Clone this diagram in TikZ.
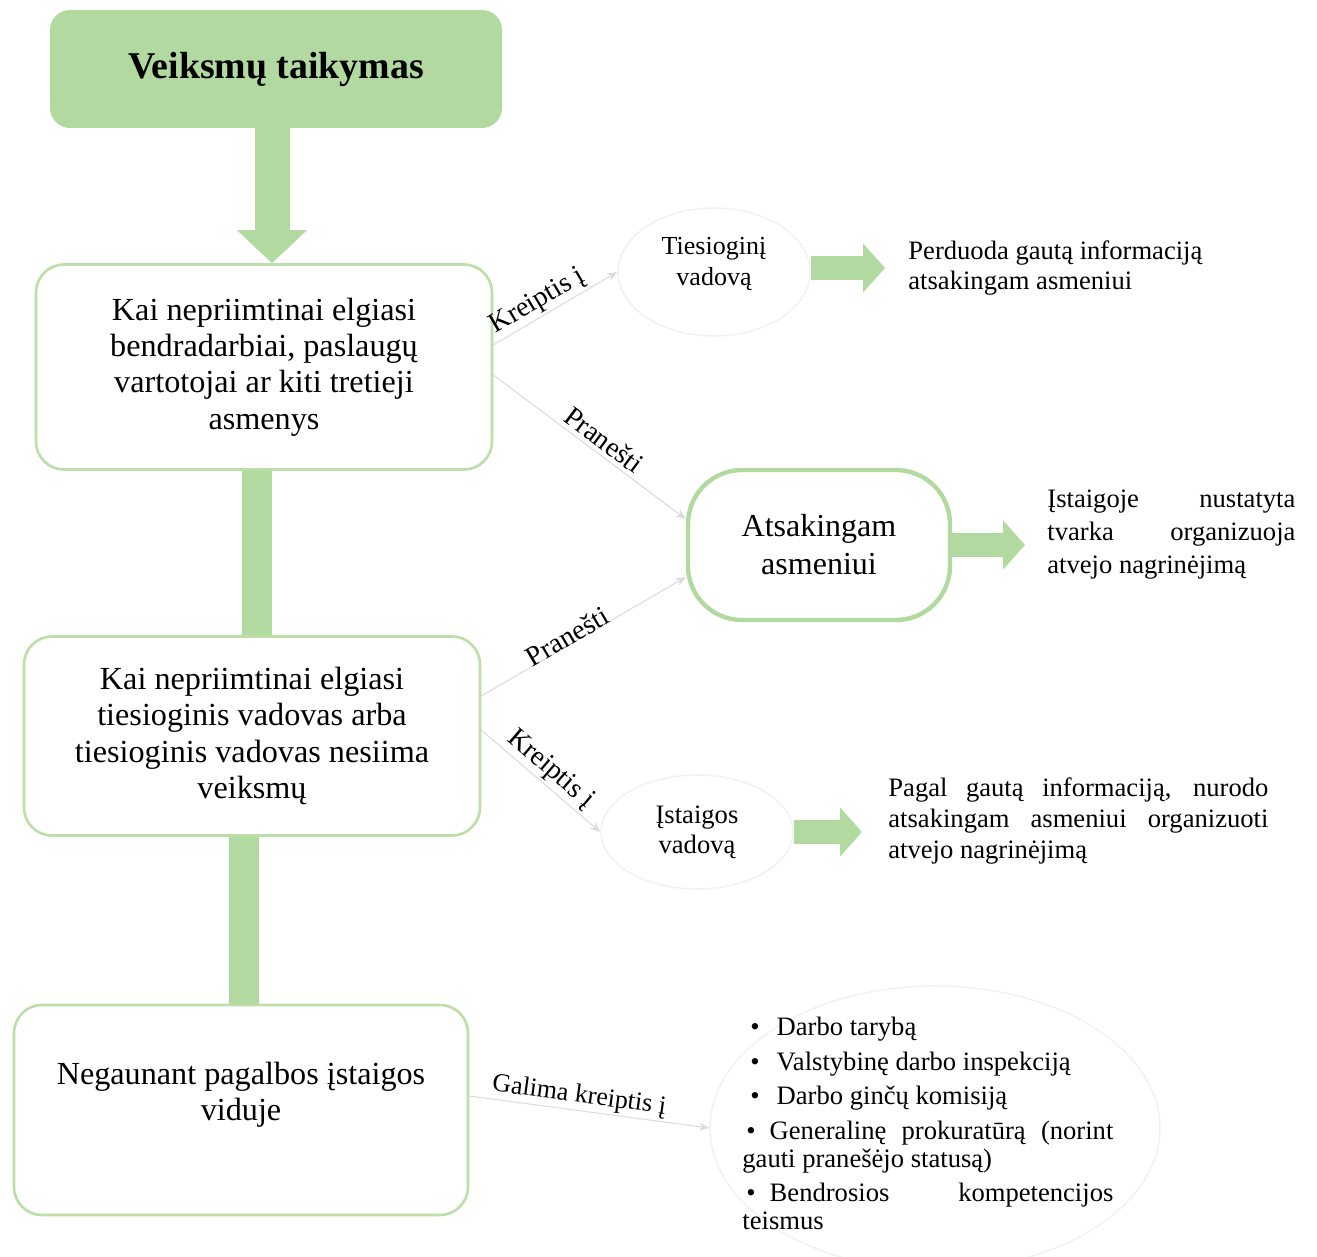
\documentclass[tikz,border=0pt]{standalone}
\usepackage{fontspec}
\setmainfont{Liberation Serif}
\usetikzlibrary{arrows.meta,shapes.geometric,calc}
\definecolor{sagreen}{RGB}{178,218,160}
\definecolor{sborder}{RGB}{188,222,168}
\definecolor{faint}{RGB}{242,242,242}
\definecolor{connc}{RGB}{218,218,218}
\begin{document}
\begin{tikzpicture}[x=0.5pt,y=-0.5pt,
  box/.style={draw=sborder, line width=1.3pt, fill=white, rounded corners=14pt, inner sep=0pt},
  maintext/.style={font=\fontsize{16.1}{18.2}\selectfont, align=center},
  small/.style={font=\fontsize{13.3}{15}\selectfont},
  bar/.style={sagreen, line width=15pt},
  blockarrow/.style={sagreen, line width=12pt, -{Triangle[width=24pt,length=11pt]}},
  conn/.style={draw=connc, line width=0.5pt, -{Stealth[length=5pt,width=4pt]}},
  lab/.style={font=\fontsize{14}{15}\selectfont, inner sep=1pt},
  halo/.style={draw=faint, line width=0.8pt, ellipse, inner sep=0pt, align=center}
]
\useasboundingbox (0,0) rectangle (1317,1257);

% title
\node[fill=sagreen, rounded corners=10pt, minimum width=226pt, minimum height=59pt,
      font=\fontsize{18.9}{22}\selectfont\bfseries] (title) at (276,69) {\raisebox{-2.5pt}{Veiksmų taikymas}};

% left boxes
\node[box, minimum width=228pt, minimum height=102.5pt, maintext] (b1) at (264,367)
  {Kai nepriimtinai elgiasi\\bendradarbiai, paslaugų\\vartotojai ar kiti tretieji\\asmenys};
\node[box, minimum width=228pt, minimum height=99.5pt, maintext] (b2) at (252,736)
  {Kai nepriimtinai elgiasi\\tiesioginis vadovas arba\\tiesioginis vadovas nesiima\\veiksmų};
\node[box, minimum width=227pt, minimum height=105pt] (b3) at (241,1110) {};
\node[maintext] (t3) at (241,1095) {Negaunant pagalbos įstaigos\\viduje};

% vertical connectors
\draw[sagreen, line width=17.5pt, -{Triangle[width=34pt,length=16.5pt]}]
  ([xshift=-2pt]title.south) -- ([xshift=-2pt]title.south |- b1.north);
\draw[bar] ([xshift=-3.3pt]b1.south) -- ([xshift=-3.3pt]b1.south |- b2.north);
\draw[bar] ([xshift=-4pt]b2.south) -- ([xshift=-4pt]b2.south |- b3.north);

% right side nodes
\node[halo, minimum width=96pt, minimum height=64pt, font=\fontsize{13}{14}\selectfont] (tv) at (714,272)
  {\raisebox{1pt}[0pt][0pt]{\begin{tabular}{@{}c@{}}Tiesioginį\\[1.5pt]vadovą\end{tabular}}};
\node[small, align=left, anchor=west, inner sep=0pt] (pd) at (908,268)
  {Perduoda gautą informaciją\\atsakingam asmeniui};

\node[draw=sagreen, line width=2.2pt, rounded corners=27pt, minimum width=131pt, minimum height=75pt,
      font=\fontsize{16}{19}\selectfont, align=center, fill=white] (at) at (819,545) {Atsakingam\\asmeniui};
\node[font=\fontsize{13.3}{16.5}\selectfont, text width=124pt, align=justify, anchor=west, inner sep=0pt] (is) at (1047,535)
  {Įstaigoje nustatyta\linebreak tvarka organizuoja\linebreak atvejo nagrinėjimą};

\node[halo, minimum width=96pt, minimum height=57pt, font=\fontsize{13.3}{15}\selectfont] (iv) at (697,832) {Įstaigos\\vadovą};
\node[font=\fontsize{13.3}{15.5}\selectfont, text width=190pt, align=justify, anchor=west, inner sep=0pt] (pg) at (888,821)
  {Pagal gautą informaciją, nurodo\linebreak atsakingam asmeniui organizuoti\linebreak atvejo nagrinėjimą};

\node[halo, minimum width=225pt, minimum height=142pt] (lh) at (935,1128) {};
\node[font=\fontsize{13.3}{14}\selectfont, text width=185.5pt, align=justify, anchor=north west, inner sep=0pt] (lst) at (742,1017)
  {\setlength{\parskip}{3.2pt}%
   \hspace*{4pt}\textbullet\hspace{8.5pt}Darbo tarybą\par
   \hspace*{4pt}\textbullet\hspace{8.5pt}Valstybinę darbo inspekciją\par
   \hspace*{4pt}\textbullet\hspace{8.5pt}Darbo ginčų komisiją\par
   \hspace*{2pt}\textbullet\hspace{7pt}Generalinę prokuratūrą (norint\linebreak gauti pranešėjo statusą)\par
   \hspace*{2pt}\textbullet\hspace{7pt}Bendrosios kompetencijos\linebreak teismus\par};

% block arrows
\draw[blockarrow, shorten >=11.5pt] (tv.east |- pd.west) -- (pd.west);
\draw[blockarrow, shorten >=11pt] (at.east) -- (at.east -| is.west);
\draw[blockarrow, shorten >=13pt] (iv.east) -- (iv.east -| pg.west);

% thin connectors
\draw[conn] ([yshift=11pt]b1.east) -- node[lab, sloped, above=0pt, pos=0.42] {Kreiptis į} (tv.west);
\draw[conn] ([yshift=-4pt]b1.east) -- node[lab, sloped, above=1pt, pos=0.53] {Pranešti} ([yshift=13pt]at.west);
\draw[conn] ([yshift=20pt]b2.east) -- node[lab, sloped, above=-2pt, pos=0.44] {Pranešti} ([yshift=-16pt]at.west);
\draw[conn] ([yshift=3pt]b2.east) -- node[lab, sloped, above=0pt, pos=0.50] {Kreiptis į} (iv.west);
\draw[conn] ([yshift=7pt]b3.east) -- node[lab, sloped, above=0pt, pos=0.45, font=\fontsize{13}{14}\selectfont] {Galima kreiptis į} (lh.west);
\end{tikzpicture}
\end{document}
